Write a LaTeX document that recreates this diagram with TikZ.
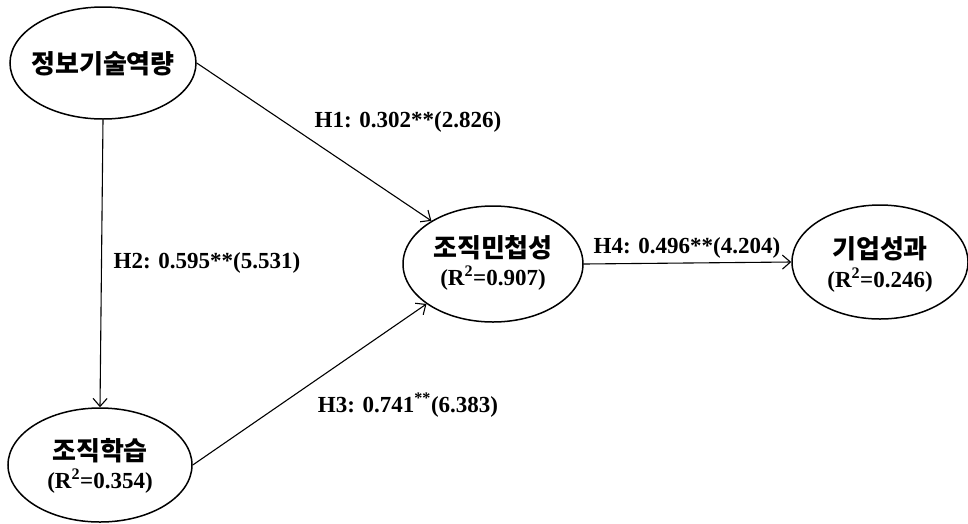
\documentclass[tikz,border=0pt]{standalone}
\usepackage{fontspec}
\setmainfont{Liberation Serif}
\newfontfamily\kr{Noto Sans CJK KR}
\usetikzlibrary{shapes.geometric,arrows.meta}
\begin{document}
\begin{tikzpicture}[x=1pt,y=-1pt,
  var/.style={draw,line width=1.5pt,ellipse,inner sep=0pt},
  krt/.style={font=\kr\bfseries\fontsize{26}{30}\selectfont,inner sep=0pt},
  rsq/.style={font=\fontsize{23}{26}\selectfont\bfseries,inner sep=0pt},
  lab/.style={font=\fontsize{23}{26}\selectfont\bfseries,inner sep=0pt},
  conn/.style={line width=1.1pt,-{Straight Barb[length=8pt,width=14pt,line width=1.1pt]}}]
\useasboundingbox[fill=white] (0,0) rectangle (968,523);
% ellipses
\node[var,minimum width=186pt,minimum height=112pt] (it) at (103,63) {};
\node[var,minimum width=184pt,minimum height=114pt] (ol) at (100,465) {};
\node[var,minimum width=180pt,minimum height=116pt] (oa) at (493,264) {};
\node[var,minimum width=176pt,minimum height=114pt] (bp) at (880,262) {};
% texts
\node[krt] (itt) at (103,64) {정보기술역량};
\node[krt] (olt) at (100,451) {조직학습};
\node[rsq] (olr) at (100,481) {(R\textsuperscript{2}=0.354)};
\node[krt] (oat) at (493,248) {조직민첩성};
\node[rsq] (oar) at (493,278) {(R\textsuperscript{2}=0.907)};
\node[krt] (bpt) at (880,249) {기업성과};
\node[rsq] (bpr) at (880,280) {(R\textsuperscript{2}=0.246)};
% connectors
\draw[conn] (it.east) -- (oa.145);
\draw[conn] (it.south) -- (ol.north);
\draw[conn] (ol.east) -- (oa.211);
\draw[conn] (oa.east) -- (bp.west);
% path labels
\node[lab] (h1) at (408,122) {H1: 0.302**(2.826)};
\node[lab] (h2) at (207,263) {H2: 0.595**(5.531)};
\node[lab] (h3) at (408,405) {H3: 0.741\textsuperscript{**}(6.383)};
\node[lab] (h4) at (687,248) {H4: 0.496**(4.204)};
\end{tikzpicture}
\end{document}
